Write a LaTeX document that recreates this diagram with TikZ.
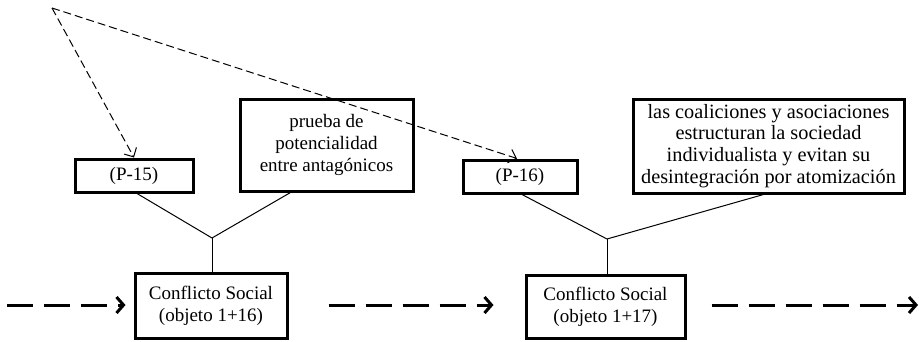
\documentclass[tikz,border=0pt]{standalone}
\usepackage{fontspec}
\setmainfont{Liberation Serif}
\usetikzlibrary{arrows.meta}
\begin{document}
\begin{tikzpicture}[x=1pt,y=-1pt,
  box/.style={draw, line width=3pt, align=center, inner sep=0pt, font=\fontsize{19}{21.8}\selectfont},
  conn/.style={line width=1pt},
  bigarrow/.style={line width=3pt, dash pattern=on 26pt off 11pt, -{Straight Barb[length=7pt,width=16pt,line width=3pt]}},
  ptr/.style={line width=1pt, dash pattern=on 8pt off 4pt, -{Straight Barb[length=7pt,width=14pt,line width=1pt]}}]
\useasboundingbox (0,0) rectangle (919,341);
\node[box, minimum width=118pt, minimum height=33pt] (p15) at (134,175.5) {(P-15)};
\node[box, minimum width=173pt, minimum height=92pt] (prueba) at (326.5,145) {prueba de\\potencialidad\\entre antagónicos};
\node[box, minimum width=114pt, minimum height=33pt] (p16) at (520,176.5) {(P-16)};
\node[box, minimum width=271pt, minimum height=94pt, font=\fontsize{20.3}{21.8}\selectfont] (coal) at (768.5,146) {las coaliciones y asociaciones\\estructuran la sociedad\\individualista y evitan su\\desintegración por atomización};
\node[box, minimum width=152pt, minimum height=65pt] (c1) at (211,305.5) {Conflicto Social\\(objeto 1+16)};
\node[box, minimum width=159pt, minimum height=63pt] (c2) at (605.5,306.5) {Conflicto Social\\(objeto 1+17)};
\coordinate (top) at (52,8);
\coordinate (j1) at (212,238);
\coordinate (j2) at (607,239);
\coordinate (a0) at (7,305);
\coordinate (a3) at (918,305);
\draw[ptr] (top) -- (p15.north);
\draw[ptr] (top) -- ([xshift=-3pt]p16.north);
\draw[conn] ([xshift=3pt]p15.south) -- (j1);
\draw[conn] ([xshift=-36pt]prueba.south) -- (j1);
\draw[conn] (j1) -- (j1 |- c1.north);
\draw[conn] ([xshift=2pt]p16.south) -- (j2);
\draw[conn] ([xshift=-5pt]coal.south) -- (j2);
\draw[conn] (j2) -- (j2 |- c2.north);
\draw[bigarrow] (a0) -- ([xshift=-8pt]c1.west |- a0);
\draw[bigarrow] ([xshift=40pt]c1.east |- a0) -- ([xshift=-31pt]c2.west |- a0);
\draw[bigarrow] ([xshift=25pt]c2.east |- a0) -- (a3);
\end{tikzpicture}
\end{document}
